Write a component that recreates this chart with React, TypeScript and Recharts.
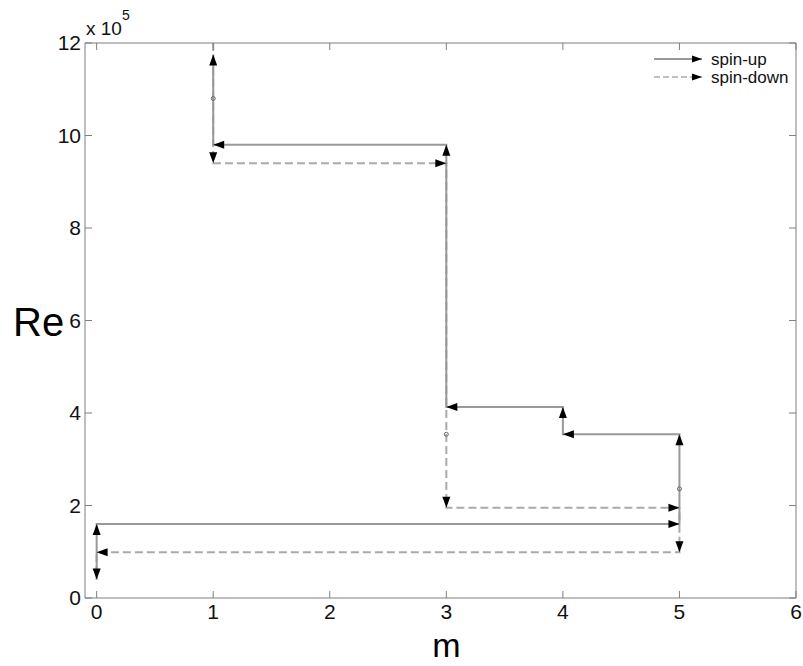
import React from "react";
import { ComposedChart, Line, Scatter, XAxis, YAxis, Label } from "recharts";

// Step paths (Re in units of 1e5)
const upM = [0, 0, 5, 5, 4, 4, 3, 3, 1, 1];
const upRe = [0.4, 1.6, 1.6, 3.54, 3.54, 4.13, 4.13, 9.8, 9.8, 11.75];
const downM = [1, 1, 3, 3, 5, 5, 0, 0];
const downRe = [12, 9.4, 9.4, 1.95, 1.95, 0.99, 0.99, 0.4];
const markM = [1, 3, 5];
const markRe = [10.8, 3.54, 2.36];
const xTicks = [0, 1, 2, 3, 4, 5, 6];
const yTicks = [0, 2, 4, 6, 8, 10, 12];
const seriesNames = ["spin-up", "spin-down"];

const FRAME = "#7f7f7f";
const UP = "#999999";
const DOWN = "#aaaaaa";
const FONT = "'Liberation Sans', Arial, sans-serif";

const upData = upM.map((m, i) => ({ x: m, y: upRe[i] }));
const downData = downM.map((m, i) => ({ x: m, y: downRe[i] }));
const markData = markM.map((m, i) => ({ x: m, y: markRe[i] }));

// arrowhead at the end of each segment, pointing along the path
function arrowDot(xs: number[], ys: number[], tag: string) {
  return (p: any) => {
    const i = p.index;
    if (i === 0 || p.cx == null || p.cy == null) return <g key={`${tag}${i}`} />;
    const ang = (Math.atan2(-(ys[i] - ys[i - 1]), xs[i] - xs[i - 1]) * 180) / Math.PI;
    return (
      <path
        key={`${tag}${i}`}
        d="M0,0 L-11,-4 L-11,4 Z"
        transform={`translate(${p.cx},${p.cy}) rotate(${ang})`}
        fill="#000"
      />
    );
  };
}

// matlab-style legend, drawn as a plain overlay so it doesn't eat plot space
function LegendBox() {
  return (
    <svg width={150} height={42} style={{ position: "absolute", left: 650, top: 48 }}>
      <line x1={4} y1={11} x2={52} y2={11} stroke="#333" strokeWidth={1.2} />
      <path d="M52,11 L42,7.5 L42,14.5 Z" fill="#000" />
      <text x={61} y={17} fontSize={17} fontFamily={FONT} fill="#111">{seriesNames[0]}</text>
      <line x1={4} y1={29} x2={52} y2={29} stroke={DOWN} strokeWidth={1.5} strokeDasharray="6 3" />
      <path d="M52,29 L42,25.5 L42,32.5 Z" fill="#000" />
      <text x={61} y={35} fontSize={17} fontFamily={FONT} fill="#111">{seriesNames[1]}</text>
    </svg>
  );
}

export default function App() {
  const tickStyle = { fill: "#111", fontSize: 21, fontFamily: FONT };
  return (
    <div style={{ position: "absolute", left: 0, top: 0, width: 803, height: 666, background: "#fff" }}>
      <ComposedChart width={803} height={666} margin={{ top: 0, right: 0, bottom: 0, left: 0 }}>
        <XAxis
          xAxisId="b" dataKey="x" type="number" domain={[-0.1, 6]} ticks={xTicks}
          allowDataOverflow height={68} stroke={FRAME} tickSize={-7} tickMargin={13} tick={tickStyle}
        >
          <Label
            content={({ viewBox }: any) => (
              <text x={viewBox.x + viewBox.width * ((3 + 0.1) / 6.1)} y={viewBox.y + 59}
                textAnchor="middle" fontSize={34} fontFamily={FONT} fill="#000">m</text>
            )}
          />
        </XAxis>
        <XAxis
          xAxisId="t" dataKey="x" type="number" orientation="top" domain={[-0.1, 6]} ticks={xTicks}
          allowDataOverflow height={43} stroke={FRAME} tickSize={-7} tickFormatter={() => ""}
        >
          <Label
            content={({ viewBox }: any) => (
              <text x={viewBox.x + 1} y={35} fontSize={19} fontFamily={FONT} fill="#111">
                x 10<tspan dy={-15} fontSize={14}>5</tspan>
              </text>
            )}
          />
        </XAxis>
        <YAxis
          yAxisId="l" dataKey="y" type="number" domain={[0, 12]} ticks={yTicks}
          allowDataOverflow width={85} stroke={FRAME} tickSize={-7} tickMargin={11} tick={tickStyle}
        >
          <Label
            content={({ viewBox }: any) => (
              <text x={13} y={viewBox.y + viewBox.height / 2 + 15}
                fontSize={40} fontFamily={FONT} fill="#000">Re</text>
            )}
          />
        </YAxis>
        <YAxis
          yAxisId="r" orientation="right" type="number" domain={[0, 12]} ticks={yTicks}
          allowDataOverflow width={7} stroke={FRAME} tickSize={-7} tickFormatter={() => ""}
        />
        <Line
          xAxisId="b" yAxisId="l" data={downData} dataKey="y" type="linear" name={seriesNames[1]}
          stroke={DOWN} strokeWidth={2} strokeDasharray="8 4"
          dot={arrowDot(downM, downRe, "d")} activeDot={false} isAnimationActive={false}
        />
        <Line
          xAxisId="b" yAxisId="l" data={upData} dataKey="y" type="linear" name={seriesNames[0]}
          stroke={UP} strokeWidth={2}
          dot={arrowDot(upM, upRe, "u")} activeDot={false} isAnimationActive={false}
        />
        <Scatter
          xAxisId="b" yAxisId="l" data={markData} dataKey="y" isAnimationActive={false}
          shape={(p: any) => <circle cx={p.cx} cy={p.cy} r={2} fill="none" stroke="#666" strokeWidth={1} />}
        />
      </ComposedChart>
      <LegendBox />
    </div>
  );
}
